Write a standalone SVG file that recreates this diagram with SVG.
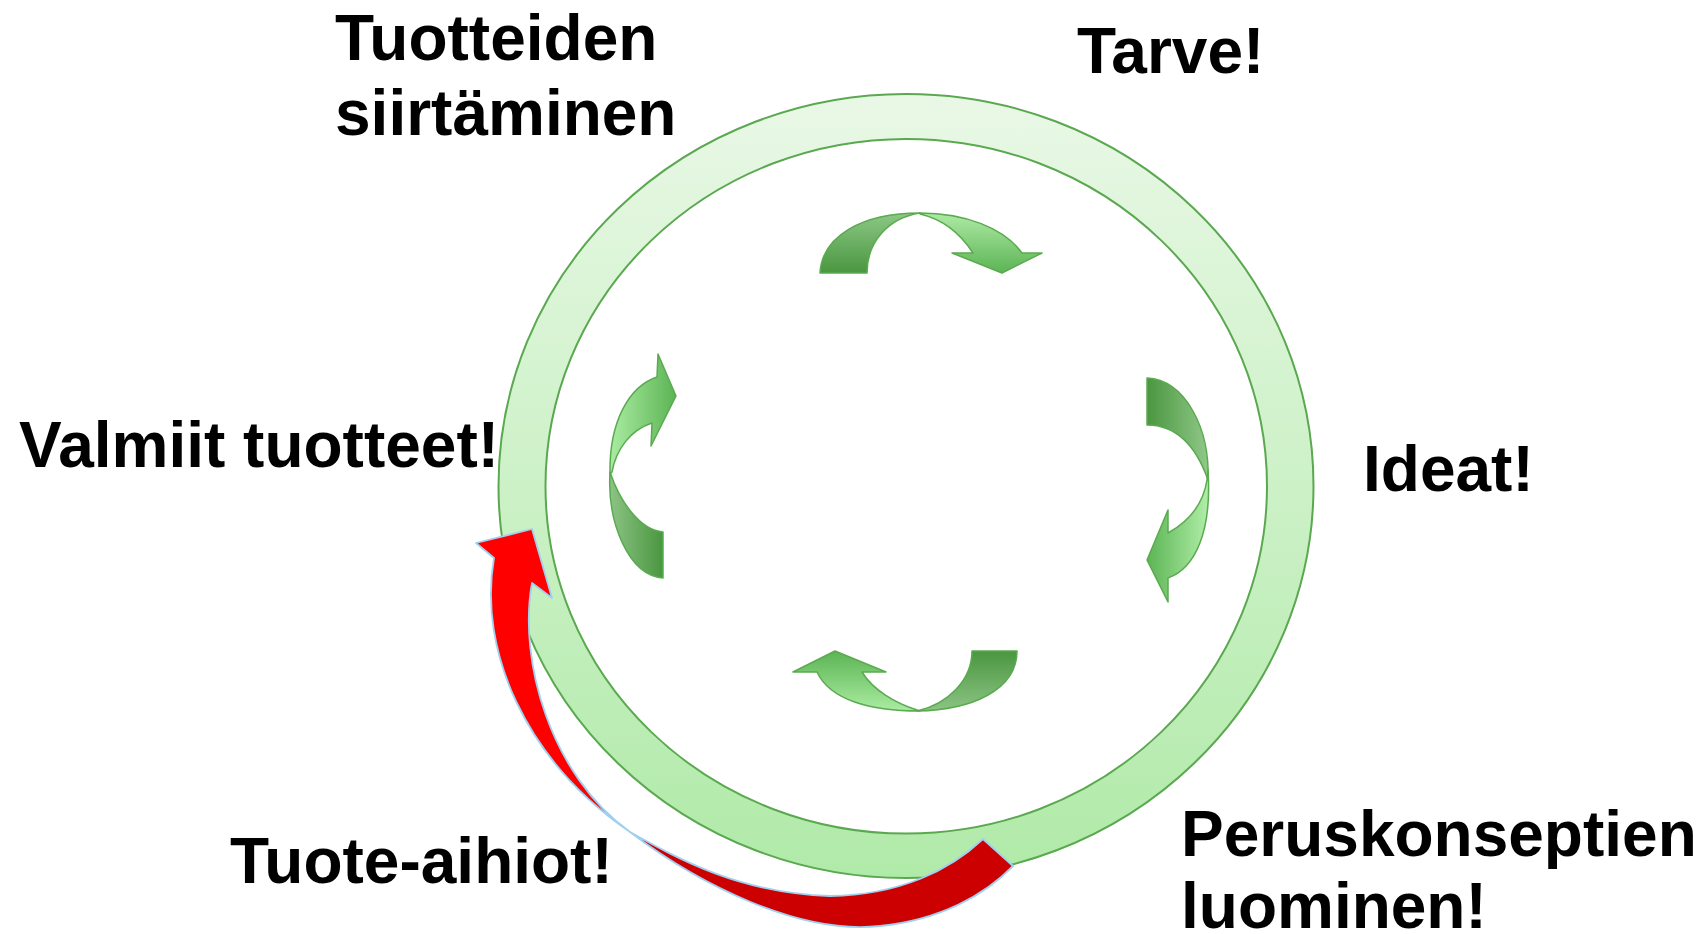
<svg xmlns="http://www.w3.org/2000/svg" width="1704" height="934" viewBox="0 0 1704 934">
<style>
.lbl{font-family:"Liberation Sans",Arial,sans-serif;font-weight:bold;font-size:64px;fill:#000}
.ga{stroke:#5aaa50;stroke-width:1.5;stroke-linejoin:round}
.red{stroke:#9fd0f0;stroke-width:1.8;stroke-linejoin:round}
</style>
<defs>
<linearGradient id="ringG" x1="0" y1="0" x2="0" y2="1">
<stop offset="0" stop-color="#e9f8e6"/><stop offset="1" stop-color="#b0eaa8"/>
</linearGradient>
<linearGradient id="dkUp" x1="0" y1="1" x2="0" y2="0"><stop offset="0" stop-color="#4a9640"/><stop offset="1" stop-color="#8cc885"/></linearGradient>
<linearGradient id="ltDown" x1="0" y1="0" x2="0" y2="1"><stop offset="0" stop-color="#aeeaa6"/><stop offset="1" stop-color="#5cb454"/></linearGradient>
<linearGradient id="dkRight" x1="0" y1="0" x2="1" y2="0"><stop offset="0" stop-color="#4a9640"/><stop offset="1" stop-color="#90c888"/></linearGradient>
<linearGradient id="ltRight" x1="0" y1="0" x2="1" y2="0"><stop offset="0" stop-color="#5cb454"/><stop offset="1" stop-color="#b0eea8"/></linearGradient>
<linearGradient id="dkDown" x1="0" y1="0" x2="0" y2="1"><stop offset="0" stop-color="#4a9640"/><stop offset="1" stop-color="#8cc484"/></linearGradient>
<linearGradient id="ltUp" x1="0" y1="0" x2="0" y2="1"><stop offset="0" stop-color="#5cb454"/><stop offset="1" stop-color="#aaeca2"/></linearGradient>
<linearGradient id="dkLeft" x1="1" y1="0" x2="0" y2="0"><stop offset="0" stop-color="#4a9640"/><stop offset="1" stop-color="#8cc484"/></linearGradient>
<linearGradient id="ltLeft" x1="0" y1="0" x2="1" y2="0"><stop offset="0" stop-color="#aaeca2"/><stop offset="1" stop-color="#5cb454"/></linearGradient>
</defs>
<rect width="1704" height="934" fill="#fff"/>
<g id="ring">
<path d="M498.5,486 a407.5,392 0 1,0 815,0 a407.5,392 0 1,0 -815,0 Z M545.5,486.25 a360.75,347.25 0 1,0 721.5,0 a360.75,347.25 0 1,0 -721.5,0 Z" fill="url(#ringG)" fill-rule="evenodd" stroke="#5aa84f" stroke-width="2"/>
</g>
<g id="connectors">
<g id="arrow-top">
<path class="ga" fill="url(#dkUp)" d="M820,273 C822,236 862,213 920,213 C888,218 867,242 867,273 Z"/>
<path class="ga" fill="url(#ltDown)" d="M920,213 C965,213 1004,228 1022,253 L1042,253 L1002,273 L952,253 L973,253 C960,233 942,219 920,214 Z"/>
</g>
<g id="arrow-right">
<path class="ga" fill="url(#dkRight)" d="M1147,378 C1185,380 1210,428 1208,480 C1196,446 1176,425 1147,425 Z"/>
<path class="ga" fill="url(#ltRight)" d="M1208,470 C1212,530 1196,568 1168,578 L1168,602 L1147,560 L1168,510 L1168,533 C1188,522 1203,505 1207,480 Z"/>
</g>
<g id="arrow-bottom">
<path class="ga" fill="url(#dkDown)" d="M1017,651 C1017,690 972,710 917,711 C948,704 972,680 972,651 Z"/>
<path class="ga" fill="url(#ltUp)" d="M920,711 C870,711 830,700 817,672 L793,672 L835,651 L886,672 L862,672 C873,690 895,703 917,710 Z"/>
</g>
<g id="arrow-left">
<path class="ga" fill="url(#dkLeft)" d="M663,578 C628,575 607,522 610,472 C620,502 640,530 663,532 Z"/>
<path class="ga" fill="url(#ltLeft)" d="M610,474 C609,420 630,386 657,377 L658,354 L676,396 L651,446 L652,423 C630,430 616,450 612,472 Z"/>
</g>
<g id="red-arrow">
<path class="red" fill="#cc0000" d="M630,832 C700,885 800,935 880,926 C940,920 985,895 1013,866 L983,839 C950,870 900,895 830,896 C740,893 680,860 630,832 Z"/>
<path class="red" fill="#ff0000" d="M532,529 L552,598 L532,583 C518,660 550,775 630,832 C525,760 478,650 494,558 L476,543 Z"/>
</g>
</g>
<g id="label-tuotteiden"><text class="lbl" x="335" y="60">Tuotteiden</text><text class="lbl" x="335" y="135">siirtäminen</text></g>
<g id="label-tarve"><text class="lbl" x="1077" y="73">Tarve!</text></g>
<g id="label-valmiit"><text class="lbl" x="19" y="467">Valmiit tuotteet!</text></g>
<g id="label-ideat"><text class="lbl" x="1363" y="491">Ideat!</text></g>
<g id="label-perus"><text class="lbl" x="1181" y="856">Peruskonseptien</text><text class="lbl" x="1181" y="928">luominen!</text></g>
<g id="label-tuote"><text class="lbl" x="230" y="883">Tuote-aihiot!</text></g>
</svg>
